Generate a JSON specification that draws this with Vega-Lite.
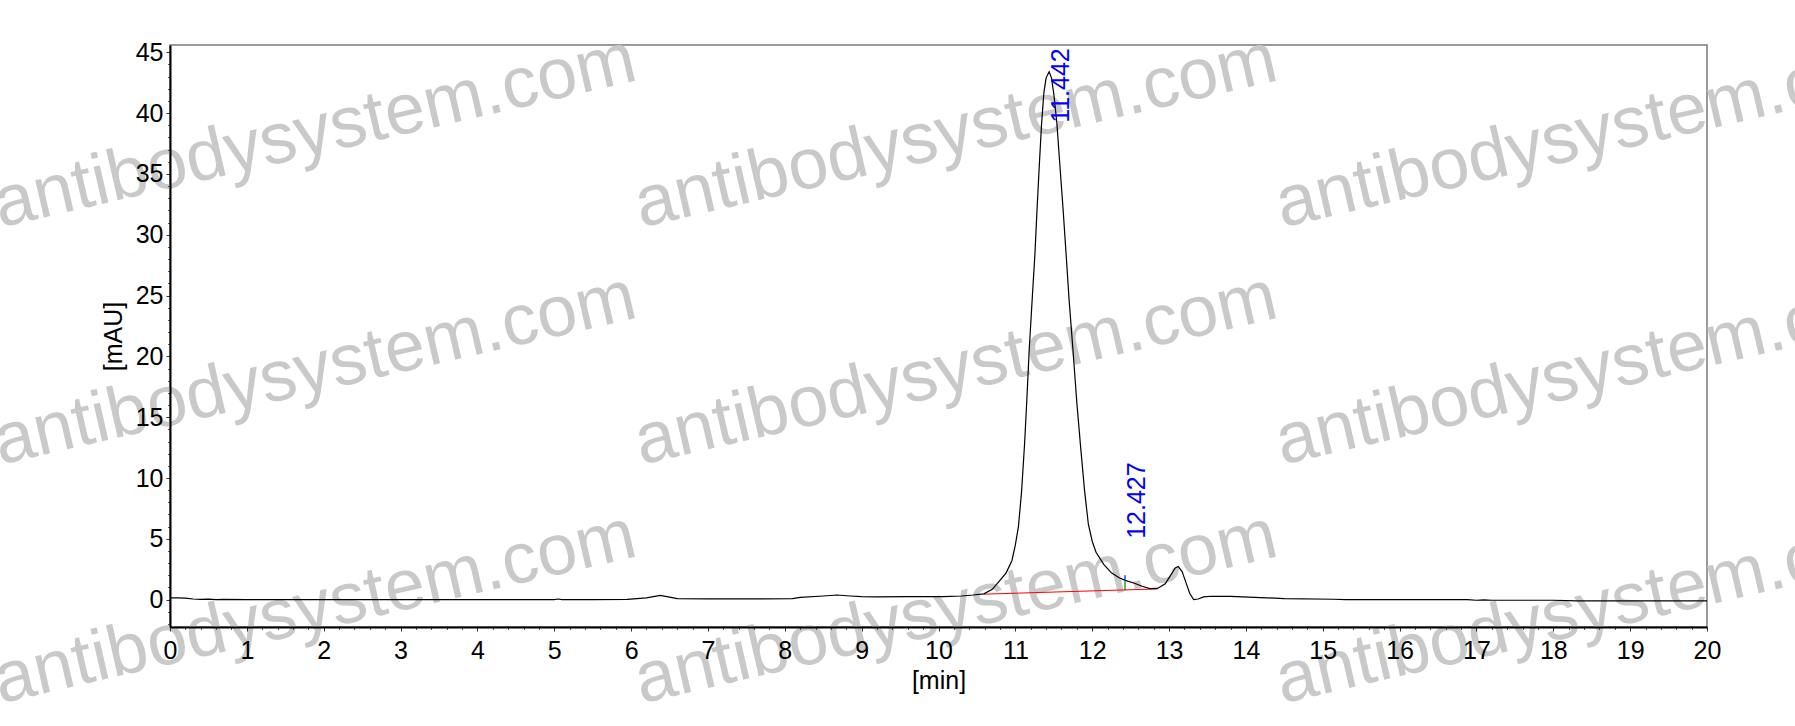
{
  "$schema": "https://vega.github.io/schema/vega-lite/v6.json",
  "width": 1537,
  "height": 582,
  "autosize": "none",
  "padding": {"left": 170, "top": 45, "right": 88, "bottom": 99},
  "background": "white",
  "config": {
    "font": "Liberation Sans",
    "view": {"stroke": "#7a7a7a", "strokeWidth": 1.5},
    "axis": {"grid": false, "labelFont": "Liberation Sans", "titleFont": "Liberation Sans", "labelColor": "black", "titleColor": "black", "tickColor": "#333333", "labelFlush": false, "labelOverlap": false}
  },
  "datasets": {
    "signal": [
      {"t": 0.0, "v": 0.15}, {"t": 0.1, "v": 0.15}, {"t": 0.2, "v": 0.12}, {"t": 0.3, "v": 0.05}, {"t": 0.4, "v": 0.02},
      {"t": 0.5, "v": 0.04}, {"t": 0.6, "v": 0.0}, {"t": 0.7, "v": 0.02}, {"t": 1.0, "v": 0.0}, {"t": 2.0, "v": 0.0},
      {"t": 3.0, "v": 0.0}, {"t": 4.0, "v": 0.0}, {"t": 5.0, "v": 0.0}, {"t": 5.05, "v": 0.05}, {"t": 5.1, "v": 0.0},
      {"t": 5.5, "v": 0.0}, {"t": 5.95, "v": 0.02}, {"t": 6.2, "v": 0.15}, {"t": 6.38, "v": 0.35}, {"t": 6.5, "v": 0.2},
      {"t": 6.6, "v": 0.08}, {"t": 7.0, "v": 0.06}, {"t": 7.5, "v": 0.06}, {"t": 8.1, "v": 0.08}, {"t": 8.2, "v": 0.18},
      {"t": 8.5, "v": 0.3}, {"t": 8.68, "v": 0.38}, {"t": 8.85, "v": 0.3}, {"t": 9.0, "v": 0.25}, {"t": 9.2, "v": 0.22},
      {"t": 9.6, "v": 0.25}, {"t": 10.06, "v": 0.25}, {"t": 10.3, "v": 0.3}, {"t": 10.45, "v": 0.38}, {"t": 10.59, "v": 0.48},
      {"t": 10.7, "v": 0.85}, {"t": 10.8, "v": 1.59}, {"t": 10.88, "v": 2.2}, {"t": 10.955, "v": 3.2}, {"t": 11.0, "v": 4.5},
      {"t": 11.04, "v": 6.0}, {"t": 11.08, "v": 8.8}, {"t": 11.12, "v": 12.8}, {"t": 11.15, "v": 16.5}, {"t": 11.18, "v": 20.5},
      {"t": 11.22, "v": 24.8}, {"t": 11.255, "v": 28.45}, {"t": 11.28, "v": 31.8}, {"t": 11.31, "v": 35.5}, {"t": 11.34, "v": 39.0},
      {"t": 11.37, "v": 41.6}, {"t": 11.4, "v": 42.9}, {"t": 11.44, "v": 43.4}, {"t": 11.47, "v": 42.9}, {"t": 11.5, "v": 41.6},
      {"t": 11.54, "v": 39.2}, {"t": 11.575, "v": 36.1}, {"t": 11.62, "v": 32.2}, {"t": 11.66, "v": 28.45}, {"t": 11.7, "v": 24.6},
      {"t": 11.75, "v": 20.5}, {"t": 11.8, "v": 16.2}, {"t": 11.85, "v": 12.5}, {"t": 11.9, "v": 9.0}, {"t": 11.95, "v": 6.2},
      {"t": 12.0, "v": 4.8}, {"t": 12.05, "v": 3.9}, {"t": 12.15, "v": 2.9}, {"t": 12.25, "v": 2.2}, {"t": 12.35, "v": 1.8},
      {"t": 12.43, "v": 1.58}, {"t": 12.55, "v": 1.35}, {"t": 12.65, "v": 1.1}, {"t": 12.75, "v": 0.9}, {"t": 12.85, "v": 0.92},
      {"t": 12.95, "v": 1.3}, {"t": 13.02, "v": 2.0}, {"t": 13.08, "v": 2.6}, {"t": 13.12, "v": 2.72}, {"t": 13.17, "v": 2.3},
      {"t": 13.22, "v": 1.4}, {"t": 13.27, "v": 0.5}, {"t": 13.32, "v": 0.0}, {"t": 13.38, "v": 0.05}, {"t": 13.45, "v": 0.22},
      {"t": 13.55, "v": 0.28}, {"t": 13.8, "v": 0.27}, {"t": 14.27, "v": 0.15}, {"t": 14.5, "v": 0.08}, {"t": 15.14, "v": 0.03},
      {"t": 15.3, "v": 0.0}, {"t": 16.0, "v": 0.0}, {"t": 16.88, "v": 0.0}, {"t": 17.0, "v": -0.05}, {"t": 17.1, "v": -0.02},
      {"t": 17.2, "v": -0.05}, {"t": 17.5, "v": -0.05}, {"t": 18.0, "v": -0.05}, {"t": 18.3, "v": -0.1}, {"t": 19.0, "v": -0.1},
      {"t": 20.0, "v": -0.1}
    ],
    "peaks": [
      {"rt": 11.442, "ly": 39.2, "label": "11.442"},
      {"rt": 12.427, "ly": 5.0, "label": "12.427"}
    ],
    "marker": [{"rt": 12.427, "base": 0.76, "sig": 1.59, "top": 2.0}],
    "baseline": [{"t0": 10.59, "v0": 0.45, "t1": 12.85, "v1": 0.88}],
    "watermark": [
      {"t": -2.212, "v": 30.6, "w": "antibodysystem.com"},
      {"t": 6.129, "v": 30.6, "w": "antibodysystem.com"},
      {"t": 14.47, "v": 30.6, "w": "antibodysystem.com"},
      {"t": -2.212, "v": 11.08, "w": "antibodysystem.com"},
      {"t": 6.129, "v": 11.08, "w": "antibodysystem.com"},
      {"t": 14.47, "v": 11.08, "w": "antibodysystem.com"},
      {"t": -2.212, "v": -8.53, "w": "antibodysystem.com"},
      {"t": 6.129, "v": -8.53, "w": "antibodysystem.com"},
      {"t": 14.47, "v": -8.53, "w": "antibodysystem.com"}
    ]
  },
  "resolve": {"axis": {"x": "independent", "y": "independent"}},
  "layer": [
    {
      "data": {"name": "watermark"},
      "mark": {"type": "text", "angle": -13, "fontSize": 72, "fill": "#c9c9c9", "align": "left", "baseline": "alphabetic", "font": "Liberation Sans"},
      "encoding": {
        "x": {"field": "t", "type": "quantitative", "axis": null, "scale": {"domain": [0, 20], "nice": false, "zero": false}},
        "y": {"field": "v", "type": "quantitative", "axis": null, "scale": {"domain": [-2.25, 45.6], "nice": false, "zero": false}},
        "text": {"field": "w"}
      }
    },
    {
      "mark": {"type": "rule", "color": "#808080", "strokeWidth": 1, "opacity": 0},
      "encoding": {
        "x": {"datum": 0, "type": "quantitative", "scale": {"domain": [0, 20], "nice": false, "zero": false},
          "axis": {"orient": "bottom", "zindex": 1, "values": [0,0.2,0.4,0.6,0.8,1,1.2,1.4,1.6,1.8,2,2.2,2.4,2.6,2.8,3,3.2,3.4,3.6,3.8,4,4.2,4.4,4.6,4.8,5,5.2,5.4,5.6,5.8,6,6.2,6.4,6.6,6.8,7,7.2,7.4,7.6,7.8,8,8.2,8.4,8.6,8.8,9,9.2,9.4,9.6,9.8,10,10.2,10.4,10.6,10.8,11,11.2,11.4,11.6,11.8,12,12.2,12.4,12.6,12.8,13,13.2,13.4,13.6,13.8,14,14.2,14.4,14.6,14.8,15,15.2,15.4,15.6,15.8,16,16.2,16.4,16.6,16.8,17,17.2,17.4,17.6,17.8,18,18.2,18.4,18.6,18.8,19,19.2,19.4,19.6,19.8,20], "labels": false, "domain": false, "tickSize": 2.5, "tickColor": "#555555", "title": null}},
        "x2": {"datum": 20},
        "y": {"datum": 0, "type": "quantitative", "scale": {"domain": [-2.25, 45.6], "nice": false, "zero": false},
          "axis": {"orient": "left", "zindex": 1, "values": [-2,-1,0,1,2,3,4,5,6,7,8,9,10,11,12,13,14,15,16,17,18,19,20,21,22,23,24,25,26,27,28,29,30,31,32,33,34,35,36,37,38,39,40,41,42,43,44,45], "labels": false, "domain": false, "tickSize": 2.5, "tickColor": "#555555", "title": null}}
      }
    },
    {
      "data": {"name": "baseline"},
      "mark": {"type": "rule", "color": "#ff0000", "strokeWidth": 1},
      "encoding": {
        "x": {"field": "t0", "type": "quantitative", "axis": null, "scale": {"domain": [0, 20], "nice": false, "zero": false}},
        "y": {"field": "v0", "type": "quantitative", "axis": null, "scale": {"domain": [-2.25, 45.6], "nice": false, "zero": false}},
        "x2": {"field": "t1"},
        "y2": {"field": "v1"}
      }
    },
    {
      "data": {"name": "signal"},
      "mark": {"type": "line", "color": "black", "strokeWidth": 1.2},
      "encoding": {
        "x": {"field": "t", "type": "quantitative", "scale": {"domain": [0, 20], "nice": false, "zero": false},
          "axis": {"orient": "bottom", "zindex": 1, "values": [0,1,2,3,4,5,6,7,8,9,10,11,12,13,14,15,16,17,18,19,20], "tickSize": 4, "labelFontSize": 25, "labelPadding": 7, "domainColor": "black", "domainWidth": 2, "title": "[min]", "titleFontSize": 25, "titleFontWeight": "normal", "titlePadding": 5}},
        "y": {"field": "v", "type": "quantitative", "scale": {"domain": [-2.25, 45.6], "nice": false, "zero": false},
          "axis": {"orient": "left", "zindex": 1, "values": [0,5,10,15,20,25,30,35,40,45], "tickSize": 4, "labelFontSize": 25, "labelPadding": 3, "domainColor": "black", "domainWidth": 2, "title": "[mAU]", "titleFontSize": 25, "titleFontWeight": "normal", "titlePadding": 9}}
      }
    },
    {
      "data": {"name": "marker"},
      "mark": {"type": "rule", "color": "#008000", "strokeWidth": 1.2},
      "encoding": {
        "x": {"field": "rt", "type": "quantitative", "axis": null, "scale": {"domain": [0, 20], "nice": false, "zero": false}},
        "y": {"field": "base", "type": "quantitative", "axis": null, "scale": {"domain": [-2.25, 45.6], "nice": false, "zero": false}},
        "y2": {"field": "sig"}
      }
    },
    {
      "data": {"name": "marker"},
      "mark": {"type": "rule", "color": "#0000ff", "strokeWidth": 1.2},
      "encoding": {
        "x": {"field": "rt", "type": "quantitative", "axis": null, "scale": {"domain": [0, 20], "nice": false, "zero": false}},
        "y": {"field": "sig", "type": "quantitative", "axis": null, "scale": {"domain": [-2.25, 45.6], "nice": false, "zero": false}},
        "y2": {"field": "top"}
      }
    },
    {
      "data": {"name": "peaks"},
      "mark": {"type": "text", "angle": -90, "align": "left", "baseline": "top", "fontSize": 25, "fill": "#0000ff", "font": "Liberation Sans"},
      "encoding": {
        "x": {"field": "rt", "type": "quantitative", "axis": null, "scale": {"domain": [0, 20], "nice": false, "zero": false}},
        "y": {"field": "ly", "type": "quantitative", "axis": null, "scale": {"domain": [-2.25, 45.6], "nice": false, "zero": false}},
        "text": {"field": "label"}
      }
    }
  ]
}
